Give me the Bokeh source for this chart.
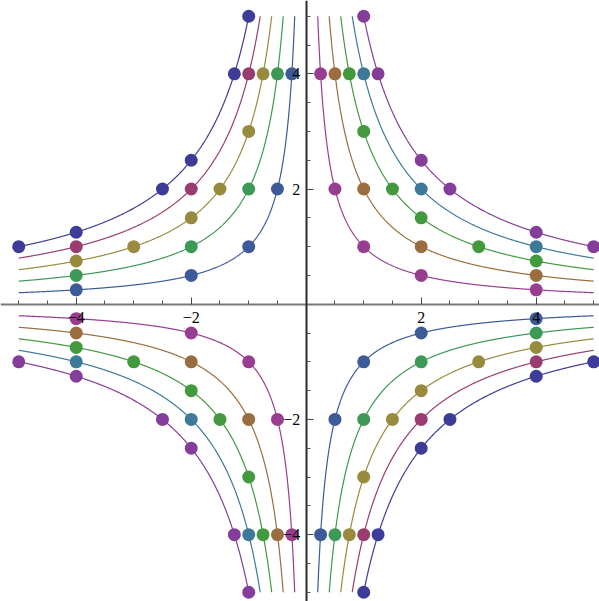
import numpy as np
from bokeh.plotting import figure
from bokeh.models import FixedTicker
from bokeh.embed import file_html
from bokeh.resources import INLINE

# ---- data -------------------------------------------------------------
k_values = [1, 2, 3, 4, 5]

# marked points on the first-quadrant branch of y = k/x (per k)
pts_x_k1 = [0.25, 0.5, 1, 2, 4]
pts_y_k1 = [4, 2, 1, 0.5, 0.25]
pts_x_k2 = [0.5, 1, 2, 4]
pts_y_k2 = [4, 2, 1, 0.5]
pts_x_k3 = [0.75, 1, 1.5, 2, 3, 4]
pts_y_k3 = [4, 3, 2, 1.5, 1, 0.75]
pts_x_k4 = [1, 2, 4]
pts_y_k4 = [4, 2, 1]
pts_x_k5 = [1, 1.25, 2, 2.5, 4, 5]
pts_y_k5 = [5, 4, 2.5, 2, 1.25, 1]
pts_x = [pts_x_k1, pts_x_k2, pts_x_k3, pts_x_k4, pts_x_k5]
pts_y = [pts_y_k1, pts_y_k2, pts_y_k3, pts_y_k4, pts_y_k5]

# colours for y = -k/x (k = 1..5) and y = k/x (k = 1..5)
neg_colors = ["#3d5a99", "#3d9956", "#998b3d", "#993d71", "#3d3d99"]
pos_colors = ["#993d90", "#996d3d", "#43993d", "#3d7999", "#843d99"]

x_max = 5
y_max = 5
major_ticks = [-4, -2, 2, 4]
major_labels = {-4: "\u22124", -2: "\u22122", 2: "2", 4: "4"}
minor_ticks = [-5, -4.5, -3.5, -3, -2.5, -1.5, -1, -0.5,
               0.5, 1, 1.5, 2.5, 3, 3.5, 4.5, 5]

# ---- figure -----------------------------------------------------------
p = figure(width=599, height=601, x_range=(-5.317, 5.101), y_range=(-5.161, 5.273),
           output_backend="svg", toolbar_location=None, min_border=0)
p.outline_line_color = None
p.xgrid.visible = False
p.ygrid.visible = False
p.background_fill_color = "white"
p.border_fill_color = "white"

# curves
for i, k in enumerate(k_values):
    xs = np.linspace(k / y_max, x_max, 500)
    ys = k / xs
    # y = k/x  (quadrants I and III)
    p.line(xs, ys, line_color=pos_colors[i], line_width=1.2)
    p.line(-xs, -ys, line_color=pos_colors[i], line_width=1.2)
    # y = -k/x (quadrants II and IV)
    p.line(-xs, ys, line_color=neg_colors[i], line_width=1.2)
    p.line(xs, -ys, line_color=neg_colors[i], line_width=1.2)

# points
for i, k in enumerate(k_values):
    px = np.array(pts_x[i], dtype=float)
    py = np.array(pts_y[i], dtype=float)
    p.scatter(px, py, size=13, fill_color=pos_colors[i], line_color=None)
    p.scatter(-px, -py, size=13, fill_color=pos_colors[i], line_color=None)
    p.scatter(-px, py, size=13, fill_color=neg_colors[i], line_color=None)
    p.scatter(px, -py, size=13, fill_color=neg_colors[i], line_color=None)

# axes through the origin
for ax in (p.xaxis[0], p.yaxis[0]):
    ax.fixed_location = 0
    ax.ticker = FixedTicker(ticks=major_ticks, minor_ticks=minor_ticks)
    ax.major_label_overrides = major_labels
    ax.major_tick_in = 7
    ax.major_tick_out = 0
    ax.minor_tick_in = 4
    ax.minor_tick_out = 0
    ax.major_tick_line_color = "#444444"
    ax.minor_tick_line_color = "#555555"
    ax.major_label_text_font = "Liberation Serif"
    ax.major_label_text_font_size = "16px"
    ax.major_label_text_color = "black"

p.xaxis.axis_line_color = "#7a7a7a"
p.xaxis.axis_line_width = 2
p.yaxis.axis_line_color = "#2b2b2b"
p.yaxis.axis_line_width = 2
p.xaxis.major_label_standoff = 8
p.yaxis.major_label_standoff = 6

open("out.html", "w").write(file_html(p, INLINE))
